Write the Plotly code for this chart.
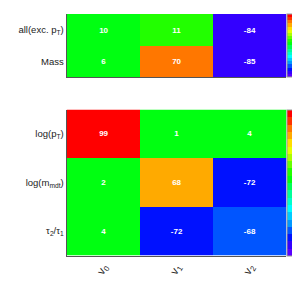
import plotly.graph_objects as go

# Data
x_labels = ["v<sub>0</sub>", "v<sub>1</sub>", "v<sub>2</sub>"]
top_rows = ["all(exc. p<sub>T</sub>)", "Mass"]
top_values = [[10, 11, -84],
              [6, 70, -85]]
bottom_rows = ["log(p<sub>T</sub>)", "log(m<sub>mdt</sub>)", "τ<sub>2</sub>/τ<sub>1</sub>"]
bottom_values = [[99, 1, 4],
                 [2, 68, -72],
                 [4, -72, -68]]

# ROOT-like discrete rainbow palette, bottom (-100) to top (100)
band_colors = ["#5a00ff", "#3300ff", "#0011ff", "#0055ff", "#0099ff", "#00ccff",
               "#00ffff", "#00ffcc", "#00ff99", "#00ff55", "#00ff11", "#22ff00",
               "#66ff00", "#aaff00", "#e6ff00", "#ffdd00", "#ffaa00", "#ff7700",
               "#ff3300", "#ff0000"]
n = len(band_colors)
cscale = []
for i, c in enumerate(band_colors):
    cscale.append([i / n, c])
    cscale.append([(i + 1) / n, c])

W, H = 300, 288
font_family = "Liberation Sans, Arial, sans-serif"

fig = go.Figure()

def add_heat(z, rows, xa, ya, cb_top, cb_len):
    fig.add_trace(go.Heatmap(
        z=z, x=x_labels, y=rows, xaxis=xa, yaxis=ya,
        zmin=-100, zmax=100, colorscale=cscale,
        text=[[str(v) for v in row] for row in z],
        texttemplate="<b>%{text}</b>", textfont=dict(color="white", size=8, family=font_family),
        xgap=0, ygap=0,
        colorbar=dict(x=286 / W, xanchor="left", y=1 - cb_top / H, yanchor="top",
                      len=cb_len, lenmode="pixels", thickness=16,
                      showticklabels=False, ticks="inside", ticklen=4,
                      tickcolor="#333333", outlinewidth=1, outlinecolor="#999999",
                      tickvals=[-80, -60, -40, -20, 0, 20, 40, 60, 80],
                      xpad=0, ypad=0),
        hoverinfo="skip",
    ))

add_heat(top_values, top_rows, "x", "y", 6, 63)
add_heat(bottom_values, bottom_rows, "x2", "y2", 101.5, 146)

axis_common = dict(showline=True, linecolor="#555555", linewidth=1, mirror=False,
                   ticks="", tickfont=dict(size=9.5, color="#222222", family=font_family))

fig.update_layout(
    width=W, height=H, margin=dict(l=0, r=0, t=0, b=0),
    paper_bgcolor="white", plot_bgcolor="white",
    xaxis=dict(domain=[60 / W, 285 / W], anchor="y", showticklabels=False, **axis_common),
    yaxis=dict(domain=[1 - 69 / H, 1 - 6 / H], anchor="x", autorange="reversed", **axis_common),
    xaxis2=dict(domain=[60 / W, 285 / W], anchor="y2", tickangle=-60, **axis_common),
    yaxis2=dict(domain=[1 - 247.5 / H, 1 - 101.5 / H], anchor="x2", autorange="reversed", **axis_common),
    showlegend=False,
)
fig.update_xaxes(selector=dict(anchor="y2"), tickfont=dict(size=11, color="#222222", family=font_family))

fig.write_html("out.html")
